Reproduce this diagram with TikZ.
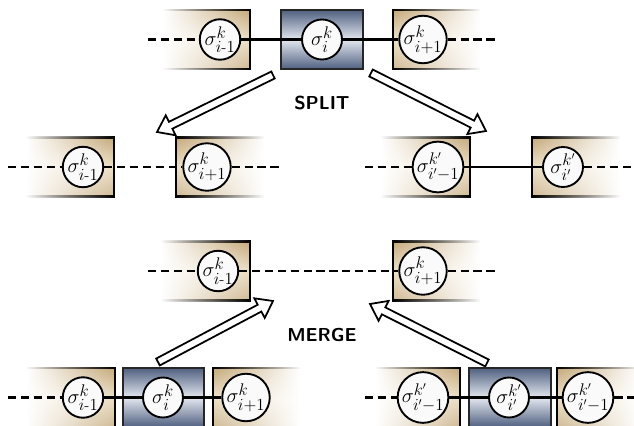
\documentclass[tikz,border=0pt]{standalone}
\usepackage{amsmath,amssymb}
\usepackage{xcolor}
\usepackage{tikz}
\usetikzlibrary{calc,fadings}
\definecolor{tanoscuro}{RGB}{196,168,122}
\definecolor{tanclaro}{RGB}{236,224,200}
\definecolor{azuloscuro}{RGB}{80,96,128}
\definecolor{azulclaro}{RGB}{228,232,240}
\tikzfading[name=abreizq, left color=transparent!100, middle color=transparent!0, right color=transparent!0]
\tikzfading[name=abreder, left color=transparent!0, middle color=transparent!0, right color=transparent!100]
% cajas: #1 = x izq, #2 = x der, #3 = y centro
\newcommand{\cajaizq}[3]{%
  \shade[top color=tanoscuro, bottom color=tanoscuro!80, middle color=tanclaro, path fading=abreizq] (#1,#3-29.5) rectangle (#2,#3+29.5);
  \draw[line width=1.9pt, path fading=abreizq] (#1,#3-29.5) -- (#2,#3-29.5) -- (#2,#3+29.5) -- (#1,#3+29.5);}
\newcommand{\cajader}[3]{%
  \shade[top color=tanoscuro, bottom color=tanoscuro!80, middle color=tanclaro, path fading=abreder] (#1,#3-29.5) rectangle (#2,#3+29.5);
  \draw[line width=1.9pt, path fading=abreder] (#2,#3-29.5) -- (#1,#3-29.5) -- (#1,#3+29.5) -- (#2,#3+29.5);}
\newcommand{\cajaazul}[3]{%
  \shade[top color=azuloscuro, bottom color=azuloscuro, middle color=azulclaro, draw=black!85, line width=1.9pt] (#1,#3-29.5) rectangle (#2,#3+29.5);}
% flecha hueca de #1 a #2
\newcommand{\flechagorda}[2]{%
  \coordinate (hb) at ($(#2)!13pt!(#1)$);
  \draw[line width=1.5pt, fill=white, line join=miter]
    ($(#1)!3.3pt!90:(#2)$) -- ($(hb)!3.3pt!90:(#2)$) -- ($(hb)!9.5pt!90:(#2)$) -- (#2)
    -- ($(hb)!9.5pt!-90:(#2)$) -- ($(hb)!3.3pt!-90:(#2)$) -- ($(#1)!3.3pt!-90:(#2)$) -- cycle;}

\begin{document}
\begin{tikzpicture}[x=0.03cm, y=-0.03cm,
    sitio/.style={circle, draw, fill=gray!4, line width=1.6pt, minimum size=1.2cm, inner sep=0pt, font=\fontsize{19}{21}\selectfont},
    enlace/.style={line width=2pt},
    corte/.style={line width=2pt, dash pattern=on 7pt off 4pt},
    rotulo/.style={font=\fontsize{16}{18}\selectfont\sffamily\bfseries}]
    \useasboundingbox (0,0) rectangle (634,426);
    % fila de arriba
    \cajaizq{163}{250}{39.5}
    \cajaazul{281}{363}{39.5}
    \cajader{393}{480}{39.5}
    \node[sitio] (a1) at (220,39.5) {$\sigma^k_{i\text{-}1}$};
    \node[sitio] (a2) at (322,39.5) {$\sigma^k_{i}$};
    \node[sitio] (a3) at (423,39.5) {$\sigma^k_{i+1}$};
    \coordinate (a0) at (148,39.5);
    \coordinate (a4) at (496,39.5);
    \draw[corte] (a0) -- (a1);
    \draw[enlace] (a1) -- (a2);
    \draw[enlace] (a2) -- (a3);
    \draw[corte] (a3) -- (a4);
    % SPLIT
    \node[rotulo] (split) at (322,103) {SPLIT};
    \cajaizq{26}{114}{167}
    \cajader{176}{264}{167}
    \node[sitio] (b1) at (83,167) {$\sigma^k_{i\text{-}1}$};
    \node[sitio] (b2) at (207,167) {$\sigma^k_{i+1}$};
    \coordinate (b0) at (8,167);
    \coordinate (b3) at (280,167);
    \draw[corte] (b0) -- (b1);
    \draw[corte] (b1) -- (b2);
    \draw[corte] (b2) -- (b3);
    \cajaizq{381}{470}{167}
    \cajader{532}{620}{167}
    \node[sitio] (c1) at (438,167) {$\sigma^{k'}_{i'-1}$};
    \node[sitio] (c2) at (563,167) {$\sigma^{k'}_{i'}$};
    \coordinate (c0) at (365,167);
    \coordinate (c3) at (632,167);
    \draw[corte] (c0) -- (c1);
    \draw[enlace] (c1) -- (c2);
    \draw[corte] (c2) -- (c3);
    \coordinate (s1) at (273,75);  \coordinate (s2) at (157,132);
    \coordinate (s3) at (371,73);  \coordinate (s4) at (486,131);
    \flechagorda{s1}{s2}
    \flechagorda{s3}{s4}
    % MERGE
    \cajaizq{161}{250}{271}
    \cajader{393}{480}{271}
    \node[sitio] (d1) at (218,271) {$\sigma^k_{i\text{-}1}$};
    \node[sitio] (d2) at (423,271) {$\sigma^k_{i+1}$};
    \coordinate (d0) at (148,271);
    \coordinate (d3) at (496,271);
    \draw[corte] (d0) -- (d1);
    \draw[corte] (d1) -- (d2);
    \draw[corte] (d2) -- (d3);
    \node[rotulo] (merge) at (322,335) {MERGE};
    \coordinate (m1) at (158,362); \coordinate (m2) at (273,301);
    \coordinate (m3) at (487,363); \coordinate (m4) at (370,304);
    \flechagorda{m1}{m2}
    \flechagorda{m3}{m4}
    % fila de abajo
    \cajaizq{26}{115}{397.5}
    \cajaazul{123}{204}{397.5}
    \cajader{213}{300}{397.5}
    \node[sitio] (e1) at (83,397.5) {$\sigma^k_{i\text{-}1}$};
    \node[sitio] (e2) at (163,397.5) {$\sigma^k_{i}$};
    \node[sitio] (e3) at (246,397.5) {$\sigma^k_{i+1}$};
    \coordinate (e0) at (8,397.5);
    \draw[corte] (e0) -- (e1);
    \draw[enlace] (e1) -- (e2);
    \draw[enlace] (e2) -- (e3);
    \cajaizq{375}{460}{397.5}
    \cajaazul{469}{551}{397.5}
    \cajader{557}{640}{397.5}
    \node[sitio] (f1) at (423,397.5) {$\sigma^{k'}_{i'-1}$};
    \node[sitio] (f2) at (509,397.5) {$\sigma^{k'}_{i'}$};
    \node[sitio] (f3) at (588,397.5) {$\sigma^{k'}_{i'-1}$};
    \coordinate (f0) at (365,397.5);
    \coordinate (f4) at (634,397.5);
    \draw[corte] (f0) -- (f1);
    \draw[enlace] (f1) -- (f2);
    \draw[enlace] (f2) -- (f3);
    \draw[corte] (f3) -- (f4);
\end{tikzpicture}
\end{document}
